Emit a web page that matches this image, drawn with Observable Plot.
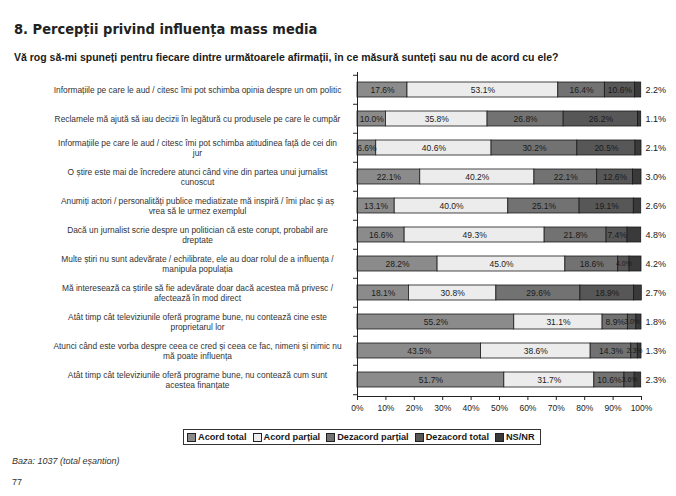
<!DOCTYPE html>
<html><head><meta charset="utf-8">
<script src="https://cdn.jsdelivr.net/npm/d3@7"></script>
<script src="https://cdn.jsdelivr.net/npm/@observablehq/plot@0.6"></script>
<style>
body{margin:0;background:#fff;width:676px;height:496px;position:relative;overflow:hidden;font-family:"Liberation Sans",Arial,sans-serif;color:#222}
#title{position:absolute;left:14px;top:21px;font-family:"DejaVu Sans Condensed","DejaVu Sans",sans-serif;font-weight:bold;font-size:14.5px;color:#222;white-space:nowrap}
#sub{position:absolute;left:14px;top:51px;font-weight:bold;font-size:10.5px;white-space:nowrap;color:#1a1a1a}
#chart{position:absolute;left:0;top:64px}
#legend{position:absolute;left:183px;top:429px;border:1px solid #333;height:14px;display:flex;align-items:center;padding:0 3px;font-size:9.2px;font-weight:bold;white-space:nowrap;color:#1a1a1a}
#legend .it{display:flex;align-items:center;margin-right:6px}
#legend .it:last-child{margin-right:2px}
#legend .sw{width:7px;height:7px;border:1px solid #222;margin-right:2px}
#foot{position:absolute;left:12px;top:456px;font-style:italic;font-size:9px;color:#333}
#page{position:absolute;left:12px;top:477px;font-size:9px;color:#333}
</style></head>
<body>
<div id="title">8. Percepții privind influența mass media</div>
<div id="sub">Vă rog să-mi spuneți pentru fiecare dintre următoarele afirmații, în ce măsură sunteți sau nu de acord cu ele?</div>
<div id="chart"></div>
<div id="legend"></div>
<div id="foot">Baza: 1037 (total eșantion)</div>
<div id="page">77</div>
<script>
const statements = [
  "Informațiile pe care le aud / citesc îmi pot schimba opinia despre un om politic",
  "Reclamele mă ajută să iau decizii în legătură cu produsele pe care le cumpăr",
  "Informațiile pe care le aud / citesc îmi pot schimba atitudinea față de cei din\njur",
  "O știre este mai de încredere atunci când vine din partea unui jurnalist\ncunoscut",
  "Anumiți actori / personalități publice mediatizate mă inspiră / îmi plac și aș\nvrea să le urmez exemplul",
  "Dacă un jurnalist scrie despre un politician că este corupt, probabil are\ndreptate",
  "Multe știri nu sunt adevărate / echilibrate, ele au doar rolul de a influența /\nmanipula populația",
  "Mă interesează ca știrile să fie adevărate doar dacă acestea mă privesc /\nafectează în mod direct",
  "Atât timp cât televiziunile oferă programe bune, nu contează cine este\nproprietarul lor",
  "Atunci când este vorba despre ceea ce cred și ceea ce fac, nimeni și nimic nu\nmă poate influența",
  "Atât timp cât televiziunile oferă programe bune, nu contează cum sunt\nacestea finanțate"
];
const categories = ["Acord total", "Acord parțial", "Dezacord parțial", "Dezacord total", "NS/NR"];
const acordTotal     = [17.6, 10.0, 6.6, 22.1, 13.1, 16.6, 28.2, 18.1, 55.2, 43.5, 51.7];
const acordPartial   = [53.1, 35.8, 40.6, 40.2, 40.0, 49.3, 45.0, 30.8, 31.1, 38.6, 31.7];
const dezacordPartial= [16.4, 26.8, 30.2, 22.1, 25.1, 21.8, 18.6, 29.6, 8.9, 14.3, 10.6];
const dezacordTotal  = [10.6, 26.2, 20.5, 12.6, 19.1, 7.4, 4.0, 18.9, 3.0, 2.3, 3.6];
const nsnr           = [2.2, 1.1, 2.1, 3.0, 2.6, 4.8, 4.2, 2.7, 1.8, 1.3, 2.3];
const xTicks = [0, 10, 20, 30, 40, 50, 60, 70, 80, 90, 100];
const colors = ["#8b8b8b", "#ececec", "#727272", "#575757", "#3a3a3a"];

const series = [acordTotal, acordPartial, dezacordPartial, dezacordTotal, nsnr];
const data = [];
statements.forEach((s, i) => series.forEach((arr, j) => data.push({s, cat: categories[j], v: arr[i]})));

const W = 676, H = 362, mT = 8, mB = 30, mL = 357, mR = 35;
const step = (H - mT - mB) / statements.length;
const fmt = v => v.toFixed(1) + "%";

const chart = Plot.plot({
  width: W, height: H, marginLeft: mL, marginRight: mR, marginTop: mT, marginBottom: mB,
  style: {fontFamily: "'Liberation Sans', Arial, sans-serif", fontSize: "8.5px", color: "#222", background: "transparent"},
  x: {domain: [0, 100], axis: null},
  y: {domain: statements, axis: null, paddingInner: 0.49, paddingOuter: 0.245},
  color: {domain: categories, range: colors},
  marks: [
    Plot.barX(data, {x: "v", y: "s", fill: "cat", order: categories, stroke: "#1a1a1a", strokeWidth: 0.8}),
    Plot.text(data, Plot.stackX({x: "v", y: "s", z: "cat", order: categories,
      text: d => d.cat === "NS/NR" ? "" : fmt(d.v), fill: "#1a1a1a",
      fontSize: d => d.v < 5 ? 7 : 8.5})),
    Plot.text(statements, {y: d => d, text: d => d, frameAnchor: "left", dx: -160, textAnchor: "middle",
      lineAnchor: "middle", fontSize: 8.4, fill: "#333", lineHeight: 1.12}),
    Plot.text(statements, {y: d => d, x: 100, text: (d, i) => fmt(nsnr[i]), dx: 4, textAnchor: "start", fontSize: 9, fill: "#1a1a1a"}),
    Plot.ruleX([0], {stroke: "#222"}),
    Plot.ruleY(statements, {y: d => d, x1: -1.4, x2: 0, dy: -step / 2, stroke: "#222"}),
    Plot.ruleY(statements.slice(-1), {y: d => d, x1: -1.4, x2: 0, dy: step / 2, stroke: "#222"}),
    Plot.frame({anchor: "bottom", stroke: "#222"}),
    Plot.axisX({ticks: xTicks, tickFormat: d => d + "%", label: null, tickSize: 4, tickPadding: 4, fontSize: 8.5, stroke: "#222", fill: "#222"})
  ]
});
document.getElementById("chart").appendChild(chart);

const leg = document.getElementById("legend");
categories.forEach((c, i) => {
  const it = document.createElement("div"); it.className = "it";
  const sw = document.createElement("span"); sw.className = "sw"; sw.style.background = colors[i];
  const t = document.createElement("span"); t.textContent = c;
  it.appendChild(sw); it.appendChild(t); leg.appendChild(it);
});
</script>
</body></html>
